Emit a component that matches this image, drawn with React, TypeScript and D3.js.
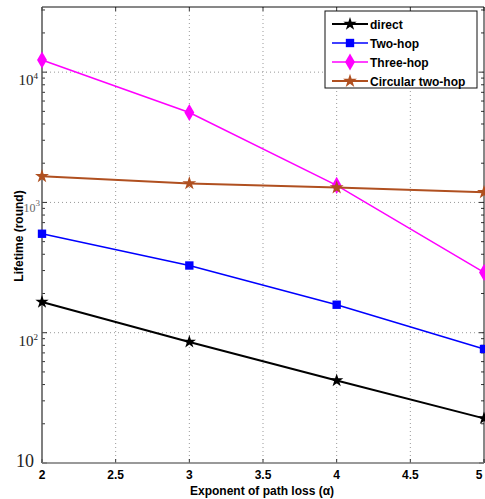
import React, { useEffect, useRef } from 'react'
import * as d3 from 'd3'

const exponents = [2, 3, 4, 5]
const directVals = [172, 85, 43, 22]
const twoHopVals = [575, 328, 164, 75]
const threeHopVals = [12400, 4900, 1350, 290]
const circularVals = [1585, 1400, 1300, 1195]
const xTicks = [2, 2.5, 3, 3.5, 4, 4.5, 5]
const yDecades = [10, 100, 1000, 10000]
const seriesNames = ['direct', 'Two-hop', 'Three-hop', 'Circular two-hop']

const W = 485
const H = 499

export default function App() {
  const ref = useRef<SVGSVGElement>(null)

  useEffect(() => {
    const svg = d3.select(ref.current)
    svg.selectAll('*').remove()

    const left = 42, right = 484, top = 7, bottom = 463
    const x = d3.scaleLinear().domain([2, 5]).range([left, right])
    const y = d3.scaleLog().domain([10, Math.pow(10, 4.5)]).range([bottom, top])

    svg.append('rect').attr('width', W).attr('height', H).attr('fill', '#fff')

    // grid
    const g = svg.append('g')
    xTicks.slice(1, -1).forEach(t => {
      g.append('line')
        .attr('x1', x(t)).attr('x2', x(t)).attr('y1', top).attr('y2', bottom)
        .attr('stroke', '#999').attr('stroke-dasharray', '1,3')
    })
    yDecades.slice(1).forEach(t => {
      g.append('line')
        .attr('x1', left).attr('x2', right).attr('y1', y(t)).attr('y2', y(t))
        .attr('stroke', '#999').attr('stroke-dasharray', '1,3')
    })

    // minor ticks
    const minor: number[] = []
    for (let d = 10; d < 40000; d *= 10) {
      for (let k = 1; k < 10; k++) {
        const v = d * k
        if (v <= Math.pow(10, 4.5)) minor.push(v)
      }
    }
    minor.forEach(v => {
      const len = yDecades.includes(v) ? 5 : 3
      g.append('line').attr('x1', left).attr('x2', left + len).attr('y1', y(v)).attr('y2', y(v))
        .attr('stroke', '#333')
      g.append('line').attr('x1', right).attr('x2', right - len).attr('y1', y(v)).attr('y2', y(v))
        .attr('stroke', '#333')
    })
    xTicks.forEach(t => {
      g.append('line').attr('x1', x(t)).attr('x2', x(t)).attr('y1', bottom).attr('y2', bottom - 4)
        .attr('stroke', '#333')
      g.append('line').attr('x1', x(t)).attr('x2', x(t)).attr('y1', top).attr('y2', top + 4)
        .attr('stroke', '#333')
    })

    // frame
    g.append('line').attr('x1', left).attr('x2', right).attr('y1', top).attr('y2', top).attr('stroke', '#111')
    g.append('line').attr('x1', right).attr('x2', right).attr('y1', top).attr('y2', bottom).attr('stroke', '#111')
    g.append('line').attr('x1', left).attr('x2', left).attr('y1', top).attr('y2', bottom).attr('stroke', '#555').attr('stroke-width', 1.5)
    g.append('line').attr('x1', left).attr('x2', right).attr('y1', bottom).attr('y2', bottom).attr('stroke', '#777').attr('stroke-width', 1.5)

    // x tick labels
    xTicks.forEach(t => {
      svg.append('text').attr('x', Math.min(x(t), 479)).attr('y', 479)
        .attr('text-anchor', 'middle')
        .style('font-family', 'Arial, Liberation Sans, sans-serif')
        .style('font-weight', 'bold').style('font-size', '12px')
        .text(String(t))
    })

    // y tick labels
    yDecades.forEach((t, i) => {
      const txt = svg.append('text')
        .attr('x', 34).attr('y', i === 0 ? y(t) + 4 : y(t) + 13)
        .attr('text-anchor', 'end')
        .style('font-family', 'Times New Roman, Liberation Serif, serif')
        .style('font-size', i === 0 ? '18px' : '15px')
        .attr('fill', '#222')
      txt.append('tspan').text('10')
      if (i > 0) {
        txt.attr('x', 38)
        txt.append('tspan').attr('dy', -6).style('font-size', '9px').text(String(i + 1))
      }
      if (i === 2) {
        txt.attr('x', 40).attr('y', y(t) + 10).style('font-size', '12px').attr('fill', '#666')
      }
    })

    // axis titles
    svg.append('text').attr('x', 262).attr('y', 495).attr('text-anchor', 'middle')
      .style('font-family', 'Arial, Liberation Sans, sans-serif')
      .style('font-weight', 'bold').style('font-size', '12px')
      .text('Exponent of path loss (α)')
    svg.append('text')
      .attr('transform', 'translate(23,236) rotate(-90)')
      .attr('text-anchor', 'middle')
      .style('font-family', 'Arial, Liberation Sans, sans-serif')
      .style('font-weight', 'bold').style('font-size', '12px')
      .text('Lifetime (round)')

    const series = [
      { name: seriesNames[0], vals: directVals, color: '#000', width: 2, sym: d3.symbolStar, size: 55 },
      { name: seriesNames[1], vals: twoHopVals, color: '#0000ff', width: 1.5, sym: d3.symbolSquare, size: 70 },
      { name: seriesNames[2], vals: threeHopVals, color: '#ff00ff', width: 1.5, sym: d3.symbolDiamond, size: 85 },
      { name: seriesNames[3], vals: circularVals, color: '#b05020', width: 2, sym: d3.symbolStar, size: 60 },
    ]

    const line = d3.line<number>()
      .x((d, i) => x(exponents[i]))
      .y(d => y(d))

    const plot = svg.append('g')
    series.forEach(s => {
      plot.append('path').datum(s.vals).attr('d', line)
        .attr('fill', 'none').attr('stroke', s.color).attr('stroke-width', s.width)
      plot.selectAll(null).data(s.vals).enter().append('path')
        .attr('transform', (d, i) => `translate(${x(exponents[i])},${y(d)})`)
        .attr('d', d3.symbol().type(s.sym).size(s.size)())
        .attr('fill', s.color)
    })

    // legend
    const lg = svg.append('g')
    lg.append('rect').attr('x', 325).attr('y', 11).attr('width', 152).attr('height', 77)
      .attr('fill', '#fff').attr('stroke', '#111')
    series.forEach((s, i) => {
      const ly = 24 + i * 19
      lg.append('line').attr('x1', 332).attr('x2', 368).attr('y1', ly).attr('y2', ly)
        .attr('stroke', s.color).attr('stroke-width', s.width)
      lg.append('path').attr('transform', `translate(350,${ly})`)
        .attr('d', d3.symbol().type(s.sym).size(s.size)()).attr('fill', s.color)
      lg.append('text').attr('x', 370).attr('y', ly + 4.5)
        .style('font-family', 'Arial, Liberation Sans, sans-serif')
        .style('font-weight', 'bold').style('font-size', '12px')
        .text(s.name)
    })
  }, [])

  return (
    <div style={{ position: 'absolute', left: 0, top: 0 }}>
      <svg ref={ref} width={W} height={H} style={{ display: 'block' }} />
    </div>
  )
}
